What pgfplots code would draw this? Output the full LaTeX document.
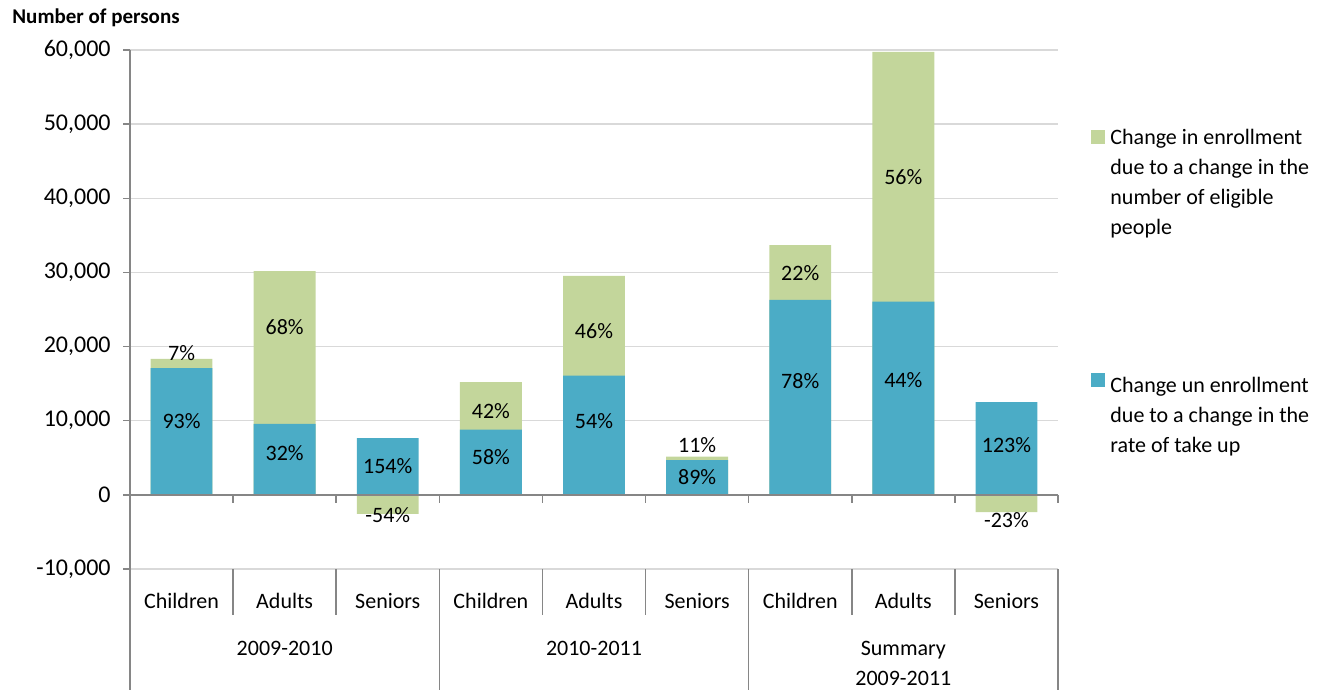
\documentclass[border=0pt]{standalone}
\usepackage{pgfplots}
\pgfplotsset{compat=1.18}
\usepackage{fontspec}
\setmainfont{Carlito}
\definecolor{cblue}{HTML}{4BACC6}
\definecolor{cgreen}{HTML}{C3D69B}
\definecolor{cgrid}{HTML}{D9D9D9}
\definecolor{caxis}{HTML}{868686}

\begin{document}
\begin{tikzpicture}
\path[use as bounding box] (-65pt,-60.5pt) rectangle (597.5pt,284.5pt);
\begin{axis}[
  at={(0pt,0pt)}, anchor=south west,
  scale only axis, width=464pt, height=259.5pt,
  xmin=-0.5, xmax=8.5, ymin=-10000, ymax=60000,
  clip=false,
  axis line style={draw=none},
  scaled y ticks=false,
  ytick={-10000,0,10000,20000,30000,40000,50000,60000},
  yticklabels={{-10,000},0,{10,000},{20,000},{30,000},{40,000},{50,000},{60,000}},
  ymajorgrids, grid style={cgrid, line width=0.75pt},
  ytick pos=left, tick align=outside, major tick length=3.5pt,
  ytick style={caxis, line width=0.75pt},
  yticklabel style={font=\fontsize{12}{14}\selectfont, inner sep=0pt, xshift=-6pt},
  xtick={0,...,8},
  xticklabels={Children,Adults,Seniors,Children,Adults,Seniors,Children,Adults,Seniors},
  xtick style={draw=none},
  xticklabel style={font=\fontsize{11}{13}\selectfont, anchor=base, yshift=-16pt, inner sep=0pt},
  legend style={at={(axis description cs:1.0356,0.8478)}, anchor=north west, draw=none, fill=none,
    inner sep=0pt, font=\fontsize{11}{15}\selectfont, nodes={align=left, inner sep=0pt},
    row sep=67.5pt, /tikz/every odd column/.append style={column sep=2.5pt}},
  legend cell align=left,
]
\addplot[ybar, bar width=0.6, bar shift=0pt, fill=cgreen, draw=none,
  legend image code/.code={\fill[cgreen] (0pt,20pt) rectangle (7pt,27pt);}] coordinates {
  (0,18340) (1,30190) (2,-2560) (3,15200) (4,29520) (5,5170) (6,33680) (7,59750) (8,-2330)};
\addlegendentry{Change in enrollment\\due to a change in the\\number of eligible\\people}
\addplot[ybar, bar width=0.6, bar shift=0pt, fill=cblue, draw=none,
  legend image code/.code={\fill[cblue] (0pt,15pt) rectangle (7pt,22pt);}] coordinates {
  (0,17100) (1,9580) (2,7650) (3,8810) (4,16090) (5,4680) (6,26300) (7,26070) (8,12500)};
\addlegendentry{Change un enrollment\\due to a change in the\\rate of take up}
\addplot[draw=none, mark=none, forget plot, nodes near coords, point meta=explicit symbolic,
  every node near coord/.append style={anchor=center, font=\fontsize{11}{13}\selectfont, text=black, inner sep=0pt}]
  table[meta=label] {
x y label
0 9930 93\%
0 19150 7\%
1 5700 32\%
1 22660 68\%
2 3820 154\%
2 -2700 -54\%
3 5030 58\%
3 11330 42\%
4 9980 54\%
4 22120 46\%
5 2340 89\%
5 6740 11\%
6 15380 78\%
6 29900 22\%
7 15510 44\%
7 42800 56\%
8 6740 123\%
8 -3370 -23\%
};
% zero line and its ticks
\draw[caxis, line width=1pt] (axis cs:-0.5,0) -- (axis cs:8.5,0);
\pgfplotsinvokeforeach{0.5,1.5,2.5,3.5,4.5,5.5,6.5,7.5,8.5}{
  \draw[caxis, line width=0.75pt] (axis cs:#1,0) -- ++(0pt,-4pt);
}
% y axis line
\draw[caxis, line width=1pt] (axis cs:-0.5,60000) -- (axis cs:-0.5,-10000) -- ++(0pt,-60.5pt);
% category separators
\pgfplotsinvokeforeach{0.5,1.5,3.5,4.5,6.5,7.5}{
  \draw[caxis, line width=0.75pt] (axis cs:#1,-10000) -- ++(0pt,-23pt);
}
\pgfplotsinvokeforeach{2.5,5.5,8.5}{
  \draw[caxis, line width=0.75pt] (axis cs:#1,-10000) -- ++(0pt,-60.5pt);
}
% group labels
\node[anchor=base, inner sep=0pt, yshift=-43pt, font=\fontsize{11}{13}\selectfont] at (axis cs:1,-10000) {2009-2010};
\node[anchor=base, inner sep=0pt, yshift=-43pt, font=\fontsize{11}{13}\selectfont] at (axis cs:4,-10000) {2010-2011};
\node[anchor=base, inner sep=0pt, yshift=-43pt, font=\fontsize{11}{13}\selectfont] at (axis cs:7,-10000) {Summary};
\node[anchor=base, inner sep=0pt, yshift=-58pt, font=\fontsize{11}{13}\selectfont] at (axis cs:7,-10000) {2009-2011};
\end{axis}
\node[anchor=base west, inner sep=0pt, font=\bfseries\fontsize{10.5}{12}\selectfont] at (-59pt,272.5pt) {Number of persons};
\end{tikzpicture}
\end{document}
